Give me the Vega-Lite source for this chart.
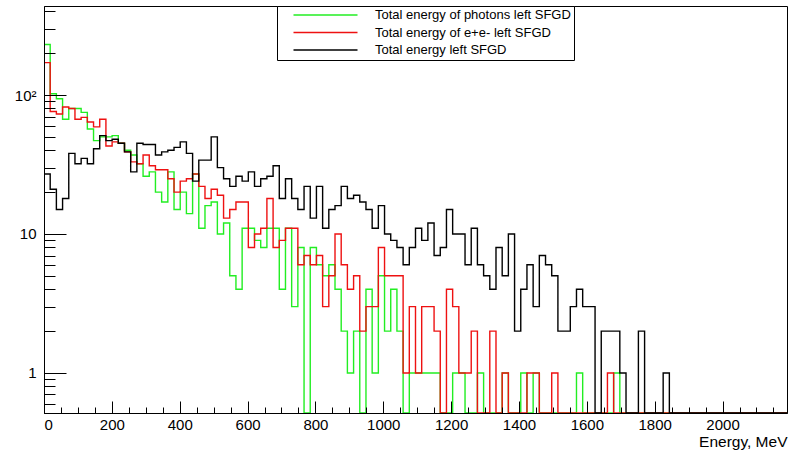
{
  "$schema": "https://vega.github.io/schema/vega-lite/v6.json",
  "width": 743,
  "height": 407,
  "autosize": "none",
  "padding": {"left": 44, "top": 6, "right": 9, "bottom": 38},
  "background": "white",
  "data": {
    "values": [
      {"e": 0, "g": 231, "r": 171, "b": 27},
      {"e": 18.25, "g": 102, "r": 76, "b": 21},
      {"e": 36.5, "g": 94, "r": 73, "b": 15},
      {"e": 54.75, "g": 67, "r": 82, "b": 18},
      {"e": 73, "g": 80, "r": 80, "b": 38},
      {"e": 91.25, "g": 80, "r": 67, "b": 32},
      {"e": 109.5, "g": 75, "r": 69, "b": 35},
      {"e": 127.75, "g": 57, "r": 64, "b": 32},
      {"e": 146, "g": 47, "r": 59, "b": 41},
      {"e": 164.25, "g": 50, "r": 67, "b": 51},
      {"e": 182.5, "g": 50, "r": 43, "b": 47},
      {"e": 200.75, "g": 51, "r": 46, "b": 48},
      {"e": 219, "g": 45, "r": 45, "b": 45},
      {"e": 237.25, "g": 40, "r": 39, "b": 39},
      {"e": 255.5, "g": 37, "r": 33, "b": 28},
      {"e": 273.75, "g": 32, "r": 32, "b": 45},
      {"e": 292, "g": 26, "r": 37, "b": 44},
      {"e": 310.25, "g": 28, "r": 31, "b": 44},
      {"e": 328.5, "g": 20, "r": 29, "b": 37},
      {"e": 346.75, "g": 17, "r": 29, "b": 39},
      {"e": 365, "g": 28, "r": 25, "b": 40},
      {"e": 383.25, "g": 15, "r": 20, "b": 42},
      {"e": 401.5, "g": 20, "r": 24, "b": 46},
      {"e": 419.75, "g": 14, "r": 25, "b": 38},
      {"e": 438, "g": 27, "r": 27, "b": 24},
      {"e": 456.25, "g": 11, "r": 22, "b": 34},
      {"e": 474.5, "g": 16, "r": 18, "b": 34},
      {"e": 492.75, "g": 17, "r": 21, "b": 50},
      {"e": 511, "g": 10, "r": 19, "b": 30},
      {"e": 529.25, "g": 12, "r": 13, "b": 25},
      {"e": 547.5, "g": 5, "r": 15, "b": 22},
      {"e": 565.75, "g": 4, "r": 17, "b": 26},
      {"e": 584, "g": 11, "r": 17, "b": 24},
      {"e": 602.25, "g": 11, "r": 8, "b": 28},
      {"e": 620.5, "g": 9, "r": 10, "b": 22},
      {"e": 638.75, "g": 8, "r": 11, "b": 25},
      {"e": 657, "g": 11, "r": 18, "b": 26},
      {"e": 675.25, "g": 11, "r": 8, "b": 31},
      {"e": 693.5, "g": 4, "r": 9, "b": 18},
      {"e": 711.75, "g": 11, "r": 11, "b": 25},
      {"e": 730, "g": 3, "r": 11, "b": 18},
      {"e": 748.25, "g": 8, "r": 6, "b": 15},
      {"e": 766.5, "g": 0, "r": 7, "b": 22},
      {"e": 784.75, "g": 8, "r": 6, "b": 13},
      {"e": 803, "g": 6, "r": 7, "b": 22},
      {"e": 821.25, "g": 5, "r": 3, "b": 11},
      {"e": 839.5, "g": 6, "r": 5, "b": 15},
      {"e": 857.75, "g": 4, "r": 10, "b": 16},
      {"e": 876, "g": 2, "r": 6, "b": 22},
      {"e": 894.25, "g": 1, "r": 4, "b": 18},
      {"e": 912.5, "g": 2, "r": 5, "b": 19},
      {"e": 930.75, "g": 0, "r": 2, "b": 17},
      {"e": 949, "g": 4, "r": 3, "b": 15},
      {"e": 967.25, "g": 1, "r": 3, "b": 11},
      {"e": 985.5, "g": 5, "r": 8, "b": 16},
      {"e": 1003.75, "g": 2, "r": 5, "b": 10},
      {"e": 1022, "g": 4, "r": 5, "b": 9},
      {"e": 1040.25, "g": 2, "r": 5, "b": 8},
      {"e": 1058.5, "g": 0, "r": 1, "b": 6},
      {"e": 1076.75, "g": 1, "r": 3, "b": 8},
      {"e": 1095, "g": 1, "r": 1, "b": 11},
      {"e": 1113.25, "g": 1, "r": 3, "b": 9},
      {"e": 1131.5, "g": 1, "r": 3, "b": 12},
      {"e": 1149.75, "g": 1, "r": 2, "b": 7},
      {"e": 1168, "g": 0, "r": 0, "b": 8},
      {"e": 1186.25, "g": 0, "r": 4, "b": 15},
      {"e": 1204.5, "g": 1, "r": 3, "b": 10},
      {"e": 1222.75, "g": 1, "r": 1, "b": 10},
      {"e": 1241, "g": 0, "r": 1, "b": 6},
      {"e": 1259.25, "g": 0, "r": 2, "b": 11},
      {"e": 1277.5, "g": 1, "r": 0, "b": 6},
      {"e": 1295.75, "g": 0, "r": 0, "b": 5},
      {"e": 1314, "g": 0, "r": 2, "b": 4},
      {"e": 1332.25, "g": 0, "r": 0, "b": 8},
      {"e": 1350.5, "g": 1, "r": 1, "b": 5},
      {"e": 1368.75, "g": 0, "r": 0, "b": 10},
      {"e": 1387, "g": 0, "r": 0, "b": 2},
      {"e": 1405.25, "g": 1, "r": 0, "b": 4},
      {"e": 1423.5, "g": 0, "r": 1, "b": 6},
      {"e": 1441.75, "g": 1, "r": 1, "b": 3},
      {"e": 1460, "g": 0, "r": 0, "b": 7},
      {"e": 1478.25, "g": 0, "r": 0, "b": 6},
      {"e": 1496.5, "g": 0, "r": 1, "b": 5},
      {"e": 1514.75, "g": 0, "r": 0, "b": 2},
      {"e": 1533, "g": 0, "r": 0, "b": 2},
      {"e": 1551.25, "g": 0, "r": 0, "b": 3},
      {"e": 1569.5, "g": 1, "r": 0, "b": 4},
      {"e": 1587.75, "g": 0, "r": 0, "b": 3},
      {"e": 1606, "g": 0, "r": 0, "b": 3},
      {"e": 1624.25, "g": 0, "r": 0, "b": 0},
      {"e": 1642.5, "g": 0, "r": 0, "b": 2},
      {"e": 1660.75, "g": 0, "r": 1, "b": 2},
      {"e": 1679, "g": 1, "r": 0, "b": 2},
      {"e": 1697.25, "g": 0, "r": 0, "b": 1},
      {"e": 1715.5, "g": 0, "r": 0, "b": 0},
      {"e": 1733.75, "g": 0, "r": 0, "b": 0},
      {"e": 1752, "g": 0, "r": 0, "b": 2},
      {"e": 1770.25, "g": 0, "r": 0, "b": 0},
      {"e": 1788.5, "g": 0, "r": 0, "b": 0},
      {"e": 1806.75, "g": 0, "r": 0, "b": 0},
      {"e": 1825, "g": 0, "r": 0, "b": 1},
      {"e": 1843.25, "g": 0, "r": 0, "b": 0},
      {"e": 1861.5, "g": 0, "r": 0, "b": 0},
      {"e": 1879.75, "g": 0, "r": 0, "b": 0},
      {"e": 1898, "g": 0, "r": 0, "b": 0},
      {"e": 1916.25, "g": 0, "r": 0, "b": 0},
      {"e": 1934.5, "g": 0, "r": 0, "b": 0},
      {"e": 1952.75, "g": 0, "r": 0, "b": 0},
      {"e": 1971, "g": 0, "r": 0, "b": 0},
      {"e": 1989.25, "g": 0, "r": 0, "b": 0},
      {"e": 2007.5, "g": 0, "r": 0, "b": 0},
      {"e": 2025.75, "g": 0, "r": 0, "b": 0},
      {"e": 2044, "g": 0, "r": 0, "b": 0},
      {"e": 2062.25, "g": 0, "r": 0, "b": 0},
      {"e": 2080.5, "g": 0, "r": 0, "b": 0},
      {"e": 2098.75, "g": 0, "r": 0, "b": 0},
      {"e": 2117, "g": 0, "r": 0, "b": 0},
      {"e": 2135.25, "g": 0, "r": 0, "b": 0},
      {"e": 2153.5, "g": 0, "r": 0, "b": 0},
      {"e": 2171.75, "g": 0, "r": 0, "b": 0},
      {"e": 2190, "g": 0, "r": 0, "b": 0}
    ]
  },
  "transform": [{"fold": ["g", "r", "b"], "as": ["s", "n"]}],
  "layer": [
    {
      "mark": {"type": "line", "interpolate": "step-after", "strokeWidth": 1.4, "clip": true, "invalid": "show"},
      "encoding": {
        "x": {
          "field": "e", "type": "quantitative",
          "scale": {"domain": [0, 2190], "nice": false, "zero": false},
          "axis": {
            "orient": "bottom",
            "values": [0, 200, 400, 600, 800, 1000, 1200, 1400, 1600, 1800, 2000],
            "format": "d",
            "tickSize": -12,
            "labelPadding": 16,
            "labelFontSize": 15,
            "title": "Energy, MeV",
            "titleAnchor": "end",
            "titleFontSize": 15.5,
            "titleFontWeight": "normal",
            "titlePadding": 2,
            "zindex": 1
          }
        },
        "y": {
          "field": "n", "type": "quantitative",
          "scale": {"type": "log", "domain": [0.515, 437], "nice": false, "clamp": true},
          "axis": {
            "orient": "left",
            "values": [1, 10, 100],
            "labelExpr": "datum.value == 100 ? '10²' : datum.value == 10 ? '10' : '1'",
            "tickSize": -22,
            "labelPadding": 30,
            "labelFontSize": 15,
            "title": null,
            "zindex": 1
          }
        },
        "color": {
          "field": "s", "type": "nominal",
          "scale": {"domain": ["g", "r", "b"], "range": ["#22ee22", "#ee1111", "#000000"]},
          "legend": {
            "orient": "none",
            "legendX": 233,
            "legendY": 0,
            "title": null,
            "symbolType": "M1.875,0H17.875",
            "symbolSize": 64,
            "symbolStrokeWidth": 1.5,
            "labelFontSize": 13,
            "labelOffset": 82.5,
            "labelLimit": 400,
            "rowPadding": 3.5,
            "padding": 2.5,
            "strokeColor": "black",
            "fillColor": "white",
            "labelExpr": "datum.value == 'g' ? 'Total energy of photons left SFGD' : datum.value == 'r' ? 'Total energy of e+e- left SFGD' : 'Total energy left SFGD'"
          }
        }
      }
    },
    {
      "mark": {"type": "line", "opacity": 0, "strokeWidth": 0, "invalid": "show"},
      "encoding": {
        "x": {
          "field": "e", "type": "quantitative",
          "axis": {
            "orient": "bottom",
            "values": [50, 100, 150, 250, 300, 350, 450, 500, 550, 650, 700, 750, 850, 900, 950, 1050, 1100, 1150, 1250, 1300, 1350, 1450, 1500, 1550, 1650, 1700, 1750, 1850, 1900, 1950, 2050, 2100, 2150],
            "tickSize": -6,
            "labels": false,
            "domain": false,
            "title": null,
            "zindex": 1
          }
        },
        "y": {
          "field": "n", "type": "quantitative",
          "axis": {
            "orient": "left",
            "values": [0.6, 0.7, 0.8, 0.9, 2, 3, 4, 5, 6, 7, 8, 9, 20, 30, 40, 50, 60, 70, 80, 90, 200, 300, 400],
            "tickSize": -11,
            "labels": false,
            "domain": false,
            "title": null,
            "zindex": 1
          }
        }
      }
    }
  ],
  "resolve": {"axis": {"x": "independent", "y": "independent"}},
  "config": {
    "font": "Liberation Sans",
    "axis": {
      "labelFont": "Liberation Sans",
      "titleFont": "Liberation Sans",
      "labelColor": "black",
      "titleColor": "black",
      "domainColor": "black",
      "tickColor": "black",
      "grid": false
    },
    "legend": {"labelFont": "Liberation Sans", "labelColor": "black"},
    "view": {"stroke": "black", "strokeWidth": 1}
  }
}
